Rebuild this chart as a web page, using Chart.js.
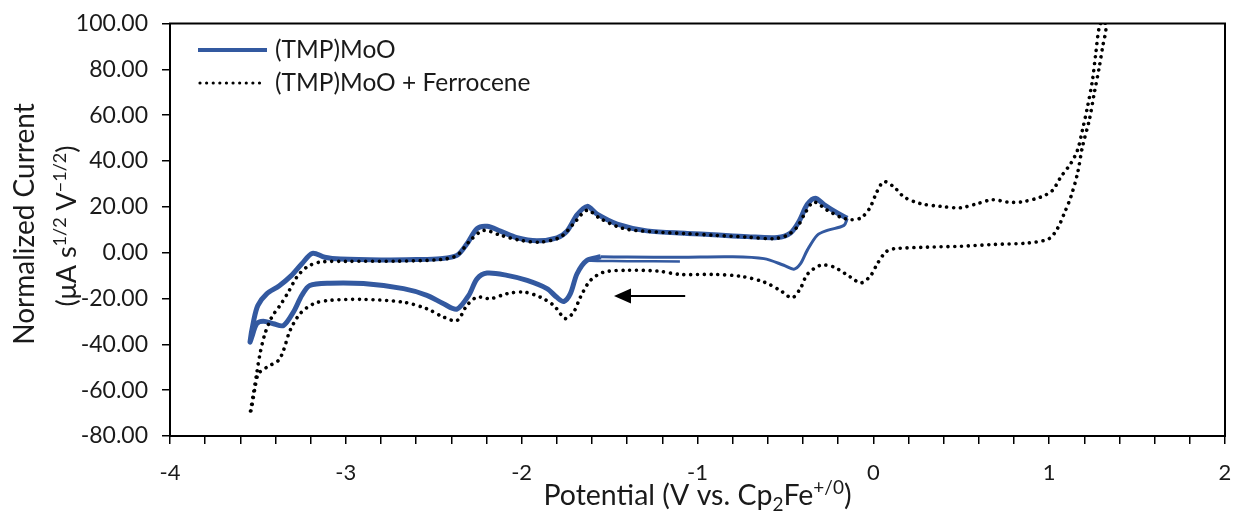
<!DOCTYPE html>
<html>
<head>
<meta charset="utf-8">
<title>Cyclic voltammetry</title>
<script src="https://cdn.jsdelivr.net/npm/chart.js@4.4.1/dist/chart.umd.min.js"></script>
<style>
  html, body { margin: 0; padding: 0; background: #fff; }
</style>
</head>
<body>
<canvas id="cvChart" width="1236" height="521"></canvas>
<script>
// (TMP)MoO, repeated cycles (thick trace): cathodic sweep from -1.55 V to -3.55 V, then back up to -0.15 V
const moLoopV = [-1.55, -1.63, -1.685, -1.723, -1.76, -1.80, -1.856, -1.969, -2.083, -2.197, -2.254, -2.30, -2.368, -2.444, -2.539, -2.672, -2.9, -3.09, -3.205, -3.25, -3.298, -3.355, -3.412, -3.469, -3.507, -3.535, -3.545,
  -3.525, -3.50, -3.45, -3.38, -3.31, -3.25, -3.19, -3.12, -3.03, -2.8, -2.6, -2.463, -2.368, -2.311, -2.254, -2.197, -2.121, -2.026, -1.913, -1.799, -1.742, -1.685, -1.628, -1.571, -1.457, -1.287, -1.059, -0.907, -0.717, -0.546, -0.471, -0.423, -0.376, -0.33, -0.281, -0.205, -0.148];
const moLoopI = [-1.8, -3.4, -9.2, -17.9, -21.3, -19.5, -15.7, -12.1, -9.9, -8.9, -11.4, -18.5, -24.6, -22.3, -18.6, -15.7, -13.5, -13.3, -14.3, -18.6, -25.9, -31.8, -31.0, -29.9, -31.0, -36.9, -39.0,
  -30.0, -23.0, -18.0, -14.5, -10.0, -4.8, -0.3, -2.0, -2.8, -3.2, -3.0, -2.6, -1.2, 3.9, 10.5, 11.5, 9.4, 6.5, 5.2, 6.5, 9.4, 16.5, 20.2, 16.8, 12.5, 9.5, 8.4, 7.8, 7.0, 6.6, 8.6, 13.6, 21.0, 23.8, 21.0, 17.3, 15.0];

// (TMP)MoO, last return sweep from -0.15 V (thin trace)
const moReturnV = [-0.148, -0.167, -0.262, -0.319, -0.376, -0.414, -0.452, -0.509, -0.622, -0.812, -1.097, -1.4, -1.55];
const moReturnI = [15.0, 11.9, 9.7, 7.6, 1.0, -4.8, -7.2, -5.5, -2.6, -1.8, -2.0, -1.9, -1.8];

// (TMP)MoO, start of the first sweep at -1.1 V
const moStartV = [-1.10, -1.40, -1.57, -1.62];
const moStartI = [-3.8, -3.7, -3.6, -3.5];

// (TMP)MoO + ferrocene: from the +1.3 V reversal down to -3.55 V and back up
const fcV = [1.31, 1.323, 1.304, 1.285, 1.256, 1.228, 1.189, 1.161, 1.123, 1.085, 1.047, 0.999, 0.876, 0.687, 0.497, 0.307, 0.118, 0.071, 0.023, -0.015, -0.07, -0.129, -0.224, -0.3, -0.376, -0.414, -0.462, -0.529, -0.622, -0.755, -0.907, -1.097, -1.23, -1.4, -1.533, -1.609, -1.666, -1.704, -1.751, -1.818, -1.894, -1.988, -2.083, -2.178, -2.254, -2.311, -2.368, -2.444, -2.539, -2.672, -2.9, -3.09, -3.184, -3.26, -3.317, -3.355, -3.383, -3.45, -3.497, -3.516, -3.535, -3.545,
  -3.526, -3.507, -3.488, -3.46, -3.421, -3.374, -3.327, -3.279, -3.222, -3.146, -2.994, -2.71, -2.463, -2.368, -2.292, -2.216, -2.121, -2.008, -1.894, -1.78, -1.704, -1.628, -1.552, -1.419, -1.23, -1.059, -0.907, -0.717, -0.565, -0.49, -0.433, -0.385, -0.338, -0.262, -0.186, -0.129, -0.07, -0.02, 0.02, 0.06, 0.118, 0.175, 0.269, 0.383, 0.497, 0.592, 0.677, 0.763, 0.839, 0.953, 1.019, 1.066, 1.123, 1.161, 1.189, 1.218, 1.246, 1.265, 1.285, 1.31];
const fcI = [103, 97.8, 89.8, 81.0, 69.4, 57.8, 46.1, 34.5, 24.3, 17.0, 10.5, 6.1, 4.2, 3.6, 2.8, 2.4, 1.7, 0.3, -4.8, -10.0, -13.2, -10.7, -6.3, -5.5, -9.5, -15.5, -19.7, -16.5, -12.8, -10.3, -9.5, -9.5, -8.0, -7.7, -8.5, -12.1, -19.4, -25.9, -28.8, -23.0, -19.4, -17.2, -17.9, -20.1, -19.4, -23.0, -29.6, -28.1, -24.5, -21.6, -20.4, -20.8, -22.3, -26.6, -33.9, -42.7, -47.0, -50.0, -52.8, -58.7, -67.4, -70.5,
  -61.6, -52.8, -44.1, -35.4, -28.1, -23.0, -17.2, -10.7, -6.3, -4.1, -3.8, -3.7, -3.0, -1.2, 5.4, 9.7, 7.6, 5.4, 4.6, 6.8, 12.7, 18.5, 14.8, 10.5, 9.0, 8.3, 7.6, 6.8, 6.1, 7.6, 11.2, 17.7, 22.1, 18.5, 15.5, 14.4, 15.2, 19.5, 26.5, 31.0, 28.6, 24.3, 21.4, 20.2, 19.6, 21.4, 23.1, 22.1, 22.1, 24.3, 27.2, 33.0, 38.9, 44.7, 53.4, 63.6, 75.2, 86.9, 98.5, 103];

// scan direction arrow (V, current)
const arrowFrom = { x: -1.07, y: -18.9 };
const arrowTo = { x: -1.475, y: -18.9 };

const yTicks = [-80, -60, -40, -20, 0, 20, 40, 60, 80, 100];
const xMajor = [-4, -3, -2, -1, 0, 1, 2];

const BLUE = '#3359a0';
const FONT = 'Lato, "Open Sans", sans-serif';

const pts = (xs, ys) => xs.map((x, i) => ({ x: x, y: ys[i] }));

// text with sub/superscript pieces, centred on (0,0) of the current transform
function drawRich(ctx, parts, size, baseY) {
  const small = Math.round(size * 0.66);
  let total = 0;
  parts.forEach(p => {
    ctx.font = (p.sub || p.sup ? small : size) + 'px ' + FONT;
    p.w = ctx.measureText(p.t).width;
    total += p.w;
  });
  let x = -total / 2;
  parts.forEach(p => {
    ctx.font = (p.sub || p.sup ? small : size) + 'px ' + FONT;
    let dy = 0;
    if (p.sub) dy = size * 0.22;
    if (p.sup) dy = -size * 0.38;
    ctx.fillText(p.t, x, baseY + dy);
    x += p.w;
  });
}

const decorations = {
  id: 'decorations',
  afterDraw(chart) {
    const { ctx, chartArea: a, scales } = chart;
    ctx.save();

    // box around the plot
    ctx.strokeStyle = '#000';
    ctx.lineWidth = 2;
    ctx.strokeRect(a.left, a.top, a.right - a.left, a.bottom - a.top);

    // arrow
    const x0 = scales.x.getPixelForValue(arrowFrom.x);
    const x1 = scales.x.getPixelForValue(arrowTo.x);
    const yA = scales.y.getPixelForValue(arrowFrom.y);
    ctx.lineWidth = 2;
    ctx.beginPath();
    ctx.moveTo(x0, yA);
    ctx.lineTo(x1 + 14, yA);
    ctx.stroke();
    ctx.fillStyle = '#000';
    ctx.beginPath();
    ctx.moveTo(x1, yA);
    ctx.lineTo(x1 + 17, yA - 7.5);
    ctx.lineTo(x1 + 17, yA + 7.5);
    ctx.closePath();
    ctx.fill();

    // legend
    const ds = chart.data.datasets;
    ctx.textBaseline = 'middle';
    ctx.textAlign = 'left';
    ctx.font = '24.5px ' + FONT;
    ctx.fillStyle = '#1a1a1a';
    ctx.strokeStyle = BLUE;
    ctx.lineWidth = 4;
    ctx.beginPath();
    ctx.moveTo(198, 50);
    ctx.lineTo(267, 50);
    ctx.stroke();
    ctx.fillText(ds[0].label, 275, 50);
    ctx.strokeStyle = '#000';
    ctx.lineWidth = 3.2;
    ctx.lineCap = 'round';
    ctx.setLineDash([0.01, 6.6]);
    ctx.beginPath();
    ctx.moveTo(200, 83);
    ctx.lineTo(265, 83);
    ctx.stroke();
    ctx.setLineDash([]);
    ctx.fillText(ds[3].label, 275, 83);

    // axis titles
    ctx.fillStyle = '#1a1a1a';
    ctx.textAlign = 'left';
    ctx.textBaseline = 'alphabetic';
    ctx.save();
    ctx.translate((a.left + a.right) / 2, 0);
    drawRich(ctx, [
      { t: 'Potential (V vs. Cp' }, { t: '2', sub: true }, { t: 'Fe' }, { t: '+/0', sup: true }, { t: ')' }
    ], 28.5, 505);
    ctx.restore();

    ctx.save();
    ctx.translate(34, 224);
    ctx.rotate(-Math.PI / 2);
    drawRich(ctx, [{ t: 'Normalized Current' }], 28, 0);
    ctx.restore();

    ctx.save();
    ctx.translate(76, 226);
    ctx.rotate(-Math.PI / 2);
    drawRich(ctx, [
      { t: '(\u03bcA s' }, { t: '1/2', sup: true }, { t: ' V' }, { t: '\u22121/2', sup: true }, { t: ')' }
    ], 27, 0);
    ctx.restore();

    ctx.restore();
  }
};

const ctx = document.getElementById('cvChart').getContext('2d');
const cvChart = new Chart(ctx, {
  type: 'scatter',
  data: {
    datasets: [
      {
        label: '(TMP)MoO',
        data: pts(moLoopV, moLoopI),
        showLine: true,
        borderColor: BLUE,
        borderWidth: 5,
        tension: 0.3,
        pointRadius: 0,
        order: 1,
      },
      {
        label: '(TMP)MoO return',
        data: pts(moReturnV, moReturnI),
        showLine: true,
        borderColor: BLUE,
        borderWidth: 3,
        tension: 0.3,
        pointRadius: 0,
        order: 1,
      },
      {
        label: '(TMP)MoO start',
        data: pts(moStartV, moStartI),
        showLine: true,
        borderColor: BLUE,
        borderWidth: 2.5,
        tension: 0.3,
        pointRadius: 0,
        order: 1,
      },
      {
        label: '(TMP)MoO + Ferrocene',
        data: pts(fcV, fcI),
        showLine: true,
        borderColor: '#000',
        borderWidth: 3.6,
        borderDash: [0.01, 6.8],
        borderCapStyle: 'round',
        tension: 0.3,
        pointRadius: 0,
        order: 0,
      },
    ],
  },
  options: {
    responsive: false,
    animation: false,
    events: [],
    layout: { padding: { top: 23.5, right: 11, left: 0, bottom: 0 } },
    plugins: {
      legend: { display: false },
      tooltip: { enabled: false },
    },
    scales: {
      x: {
        type: 'linear',
        min: xMajor[0],
        max: xMajor[xMajor.length - 1],
        afterFit: (s) => {
          s.height = 85;
          s.paddingLeft = 0;
          s.paddingRight = 0;
        },
        ticks: {
          stepSize: 0.2,
          autoSkip: false,
          maxRotation: 0,
          padding: 16,
          color: '#1a1a1a',
          font: { family: FONT, size: 22 },
          callback: (v) => {
            const r = Math.round(v);
            return Math.abs(v - r) < 1e-6 && xMajor.includes(r) ? String(r) : '';
          },
        },
        grid: { drawOnChartArea: false, drawTicks: true, tickLength: 8, color: '#000', lineWidth: 1.5 },
        border: { display: true, color: '#000', width: 2 },
      },
      y: {
        min: yTicks[0],
        max: yTicks[yTicks.length - 1],
        afterFit: (s) => {
          s.width = 170;
          s.paddingTop = 0;
          s.paddingBottom = 0;
        },
        ticks: {
          stepSize: 20,
          padding: 14,
          color: '#1a1a1a',
          font: { family: FONT, size: 23 },
          callback: (v) => v.toFixed(2),
        },
        grid: { drawOnChartArea: false, drawTicks: true, tickLength: 8, color: '#000', lineWidth: 1.5 },
        border: { display: true, color: '#000', width: 2 },
      },
    },
  },
  plugins: [decorations],
});
</script>
</body>
</html>
